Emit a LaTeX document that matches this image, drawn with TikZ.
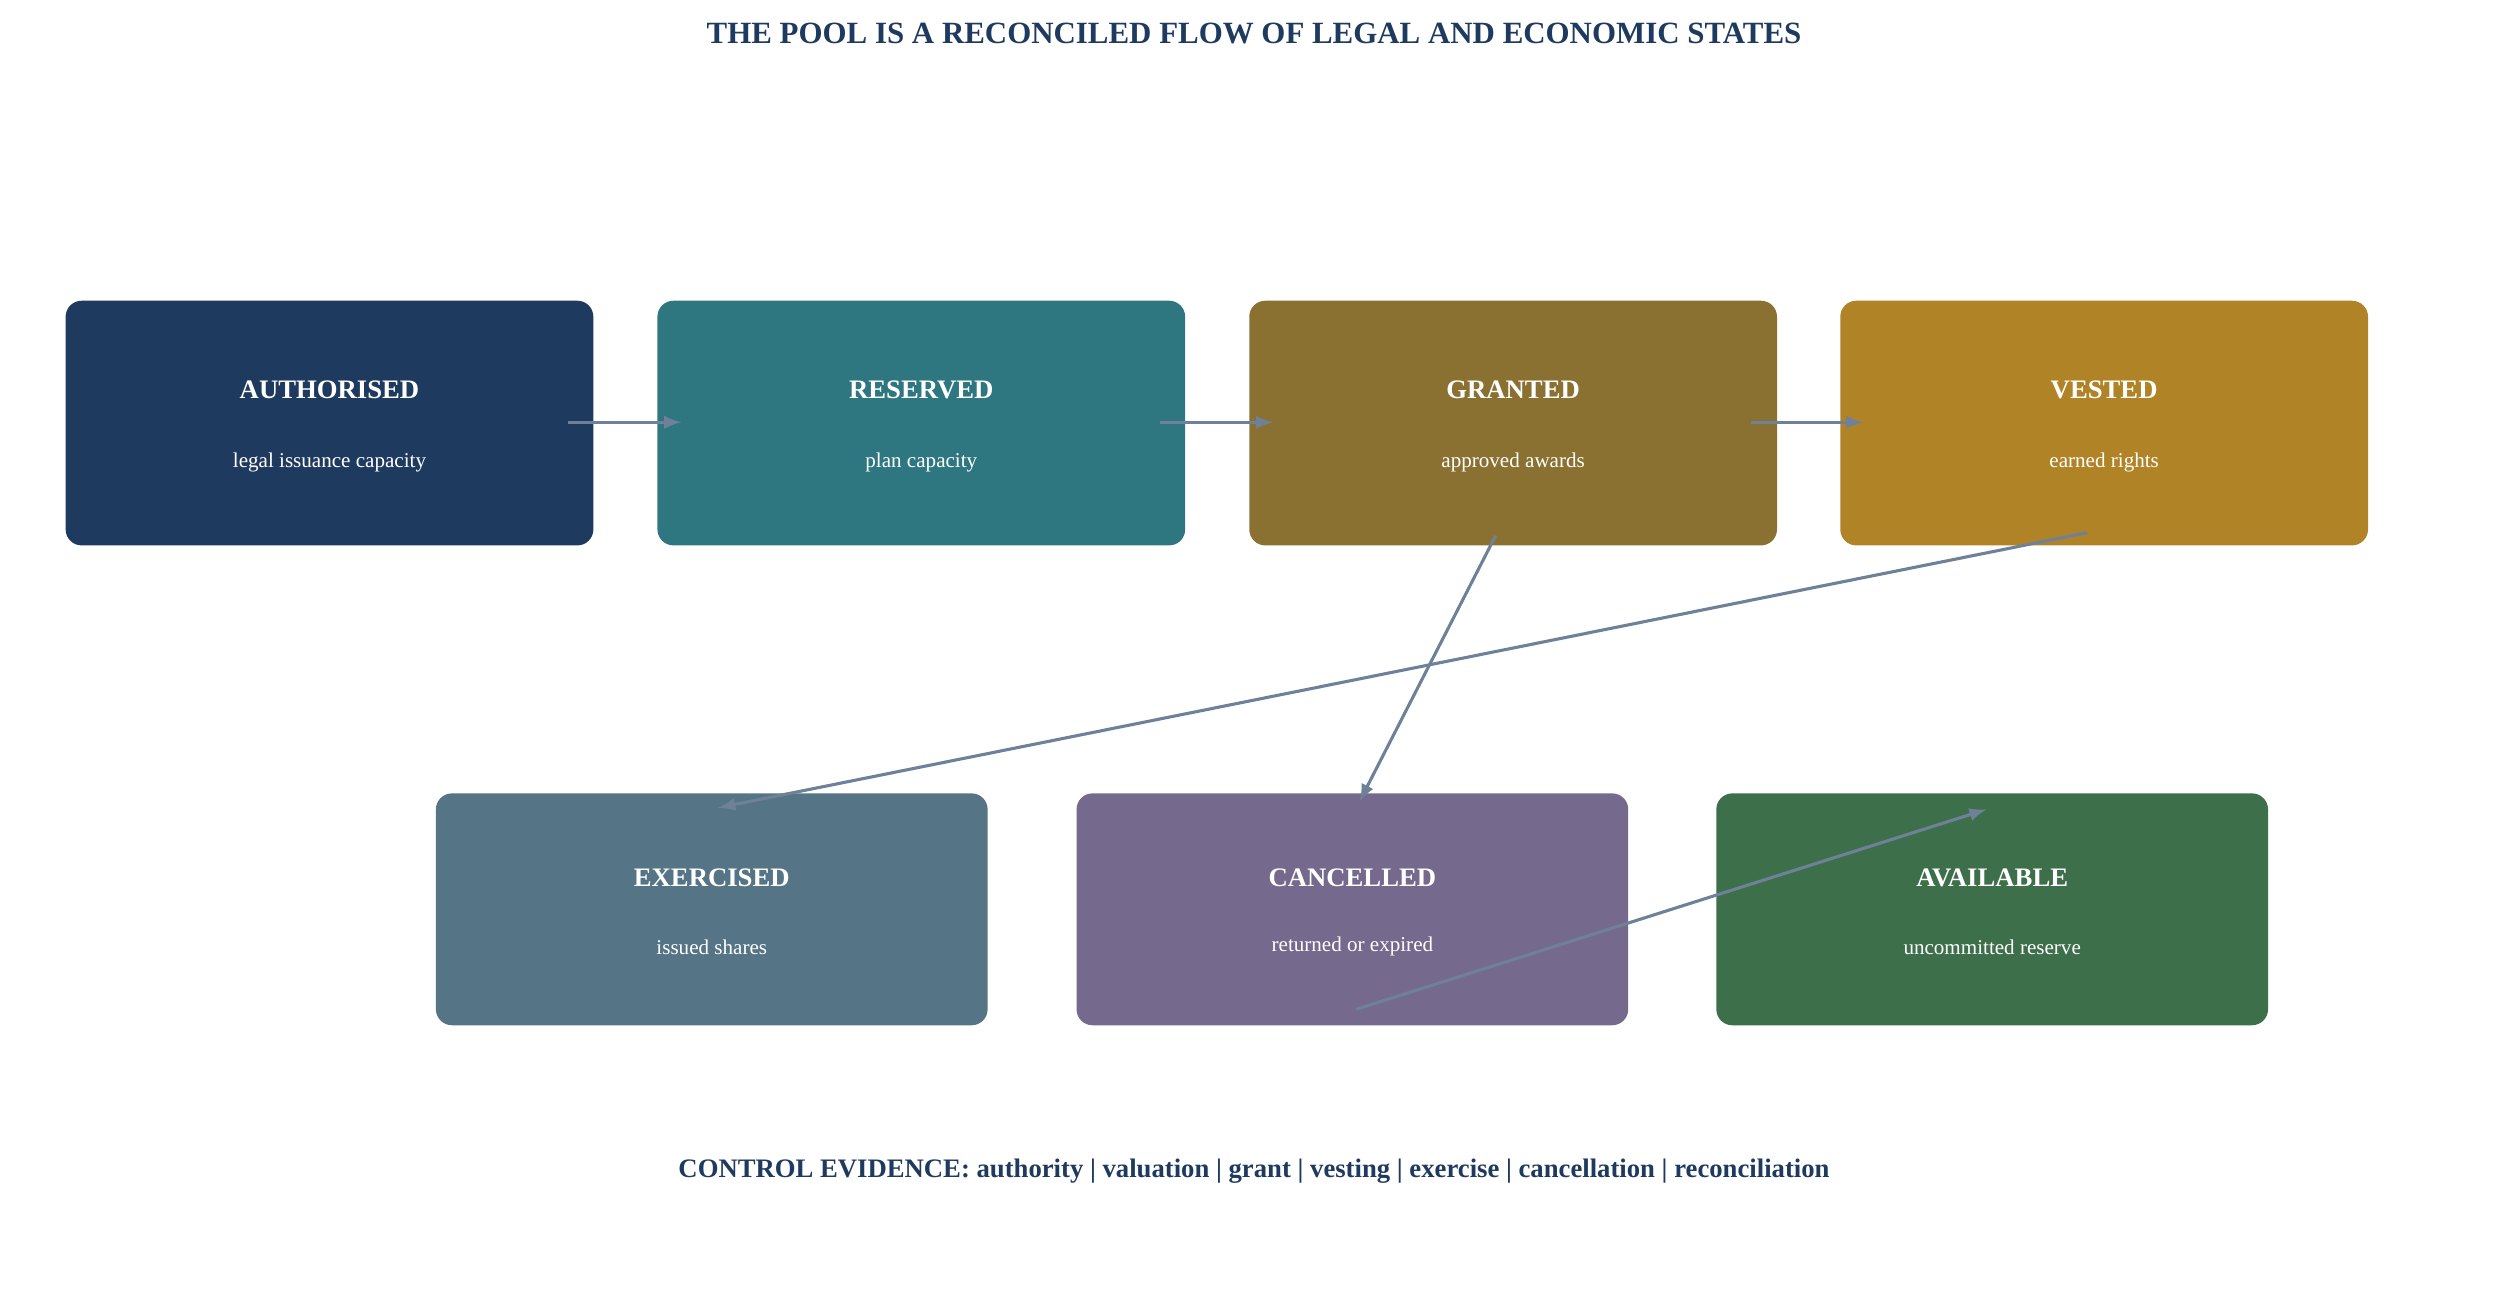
\documentclass[tikz,border=0pt]{standalone}
\usepackage{fontspec}
\setmainfont{Liberation Serif}
\usetikzlibrary{calc}
\usetikzlibrary{positioning}
\definecolor{navy}{HTML}{1F3A5F}
\definecolor{teal}{HTML}{2E7780}
\definecolor{olive}{HTML}{8A7132}
\definecolor{gold}{HTML}{B08326}
\definecolor{slate}{HTML}{557586}
\definecolor{mauve}{HTML}{756A8E}
\definecolor{forest}{HTML}{3E6F4B}
\definecolor{flow}{HTML}{6E8198}
\tikzstyle{state} = [rounded corners=0.2cm, text=white, align=center, inner sep=0pt]
\tikzstyle{topstate} = [state, minimum width=6.6cm, minimum height=3.06cm]
\tikzstyle{lowstate} = [state, minimum width=6.9cm, minimum height=2.9cm]
\tikzstyle{flowarrow} = [draw=flow, line width=1.1pt, -latex]
\begin{document}
\begin{tikzpicture}[x=0.02cm, y=-0.02cm]
    \useasboundingbox (0,0) rectangle (1568,811);

    \node[text=navy, font=\bfseries\fontsize{11}{13}\selectfont] (title) at (784,21) {THE POOL IS A RECONCILED FLOW OF LEGAL AND ECONOMIC STATES};

    % top row
    \node[topstate, fill=navy] (authorised) at (206,264.5) {};
    \node[topstate, fill=teal] (reserved) at (576,264.5) {};
    \node[topstate, fill=olive] (granted) at (946,264.5) {};
    \node[topstate, fill=gold] (vested) at (1315.5,264.5) {};

    % bottom row
    \node[lowstate, fill=slate] (exercised) at (445,568.5) {};
    \node[lowstate, fill=mauve] (cancelled) at (845.5,568.5) {};
    \node[lowstate, fill=forest] (available) at (1245.5,568.5) {};

    % labels
    \foreach \n/\t/\s in {authorised/AUTHORISED/legal issuance capacity, reserved/RESERVED/plan capacity,
        granted/GRANTED/approved awards, vested/VESTED/earned rights} {
        \node[text=white, font=\bfseries\fontsize{9.5}{11}\selectfont] at ($(\n)+(0,-20.5)$) {\t};
        \node[text=white, font=\fontsize{7.5}{9}\selectfont] at ($(\n)+(0,24.5)$) {\s};
    }
    \foreach \n/\t/\s in {exercised/EXERCISED/issued shares, cancelled/CANCELLED/returned or expired,
        available/AVAILABLE/uncommitted reserve} {
        \node[text=white, font=\bfseries\fontsize{9.5}{11}\selectfont] at ($(\n)+(0,-19.5)$) {\t};
        \node[text=white, font=\fontsize{7.5}{9}\selectfont] at ($(\n)+(0,23.5)$) {\s};
    }

    % arrow ends
    \coordinate (a_out) at (355,264);
    \coordinate (r_in) at (426,264);
    \coordinate (r_out) at (725,264);
    \coordinate (g_in) at (796,264);
    \coordinate (g_out) at (1095,264);
    \coordinate (v_in) at (1165,264);
    \coordinate (g_down) at (935,335);
    \coordinate (c_in) at (850,501);
    \coordinate (v_down) at (1305,333);
    \coordinate (e_in) at (449,505);
    \coordinate (c_out) at (848,631);
    \coordinate (av_in) at (1242,506);

    \draw[flowarrow] (a_out) -- (r_in);
    \draw[flowarrow] (r_out) -- (g_in);
    \draw[flowarrow] (g_out) -- (v_in);
    \draw[flowarrow] (g_down) -- (c_in);
    \draw[flowarrow] (v_down) -- (e_in);
    \draw[flowarrow] (c_out) -- (av_in);

    \node[text=navy, font=\bfseries\fontsize{9.5}{11}\selectfont] (evidence) at (784,732) {CONTROL EVIDENCE: authority | valuation | grant | vesting | exercise | cancellation | reconciliation};
\end{tikzpicture}
\end{document}
